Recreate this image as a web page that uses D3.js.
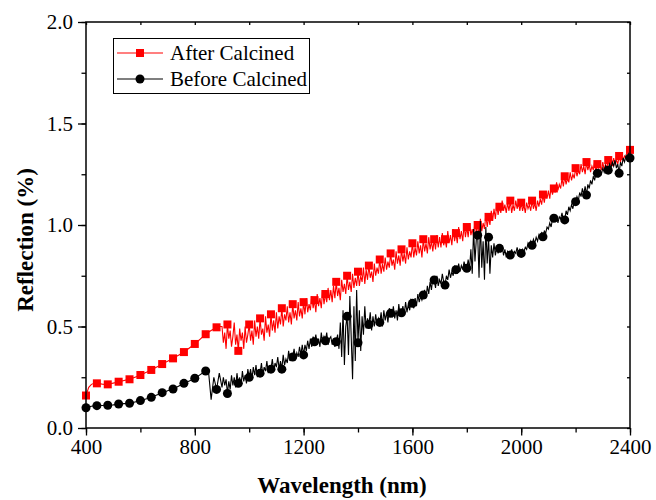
<!DOCTYPE html>
<html>
    <head>
        <title>Reflection</title>
        <meta charset="utf-8">
        <style>
            html, body {
                margin: 0px;
                padding: 0px;
                background-color: #ffffff;
            }

            #main svg {
                display: block;
                font-family: "Liberation Serif", "Times New Roman", serif;
            }

            .axis text {
                font-family: "Liberation Serif", "Times New Roman", serif;
                font-size: 21px;
                fill: #000;
            }

            .axis .domain {
                stroke: none;
            }

            .axis line {
                stroke: #000;
                stroke-width: 1.3px;
            }
        </style>
        <script src="https://cdn.jsdelivr.net/npm/d3@7"></script>
    </head>
    <body>
        <div id="main">
        </div>

        <script>
            // two sampling grids: 400..890 nm every 10 nm, 900..2400 nm every 5 nm
            var smoothStart = 400, smoothStep = 10;
            var noisyStart = 900, noisyStep = 5;

            var afterSmooth = [
                0.16, 0.20, 0.215, 0.22, 0.22, 0.218, 0.216, 0.215, 0.215, 0.218,
                0.221, 0.224, 0.228, 0.231, 0.234, 0.237, 0.24, 0.245, 0.25, 0.255,
                0.261, 0.267, 0.273, 0.279, 0.286, 0.293, 0.30, 0.307, 0.315, 0.322,
                0.329, 0.336, 0.343, 0.351, 0.358, 0.366, 0.374, 0.384, 0.394, 0.404,
                0.414, 0.426, 0.438, 0.45, 0.462, 0.472, 0.48, 0.488, 0.496, 0.50
            ];

            var afterNoisy = [
                0.50, 0.42, 0.47, 0.39, 0.51, 0.44, 0.48, 0.40, 0.45, 0.52, 0.41, 0.46, 0.38, 0.49, 0.43, 0.47, 0.39, 0.50, 0.42, 0.46,
                0.51, 0.43, 0.48, 0.41, 0.53, 0.45, 0.50, 0.44, 0.54, 0.46, 0.49, 0.43, 0.55, 0.47, 0.51, 0.45, 0.56, 0.48, 0.53, 0.47,
                0.57, 0.49, 0.55, 0.51, 0.59, 0.50, 0.56, 0.53, 0.60, 0.52, 0.57, 0.51, 0.61, 0.54, 0.58, 0.53, 0.62, 0.55, 0.59, 0.54,
                0.62, 0.56, 0.64, 0.57, 0.61, 0.58, 0.65, 0.59, 0.63, 0.57, 0.66, 0.60, 0.64, 0.59, 0.68, 0.61, 0.66, 0.62, 0.69, 0.63,
                0.68, 0.62, 0.70, 0.64, 0.72, 0.65, 0.69, 0.63, 0.73, 0.67, 0.71, 0.66, 0.75, 0.68, 0.72, 0.67, 0.76, 0.69, 0.74, 0.70,
                0.77, 0.70, 0.75, 0.72, 0.79, 0.71, 0.78, 0.73, 0.80, 0.74, 0.77, 0.72, 0.81, 0.75, 0.79, 0.76, 0.83, 0.76, 0.81, 0.77,
                0.84, 0.78, 0.82, 0.79, 0.86, 0.80, 0.83, 0.78, 0.87, 0.81, 0.85, 0.80, 0.88, 0.82, 0.86, 0.81, 0.89, 0.83, 0.87, 0.84,
                0.91, 0.84, 0.89, 0.85, 0.92, 0.86, 0.90, 0.84, 0.93, 0.87, 0.91, 0.86, 0.94, 0.88, 0.92, 0.87, 0.93, 0.88, 0.95, 0.89,
                0.94, 0.89, 0.96, 0.90, 0.93, 0.89, 0.97, 0.91, 0.95, 0.90, 0.98, 0.92, 0.96, 0.91, 0.99, 0.93, 0.97, 0.92, 1.00, 0.94,
                0.99, 0.94, 1.01, 0.95, 0.98, 0.94, 1.02, 0.96, 1.00, 0.95, 1.03, 0.97, 1.01, 0.98, 1.05, 0.99, 1.04, 1.00, 1.07, 1.02,
                1.08, 1.03, 1.10, 1.05, 1.09, 1.06, 1.12, 1.07, 1.10, 1.06, 1.11, 1.07, 1.12, 1.06, 1.10, 1.07, 1.12, 1.08, 1.11, 1.07,
                1.11, 1.07, 1.10, 1.06, 1.11, 1.08, 1.10, 1.07, 1.12, 1.08, 1.11, 1.07, 1.12, 1.09, 1.13, 1.10, 1.15, 1.11, 1.16, 1.13,
                1.17, 1.13, 1.19, 1.15, 1.18, 1.16, 1.21, 1.17, 1.20, 1.18, 1.23, 1.19, 1.24, 1.20, 1.23, 1.21, 1.26, 1.22, 1.25, 1.23,
                1.28, 1.24, 1.27, 1.25, 1.30, 1.26, 1.29, 1.25, 1.31, 1.27, 1.30, 1.26, 1.29, 1.27, 1.31, 1.26, 1.30, 1.28, 1.29, 1.27,
                1.31, 1.27, 1.30, 1.28, 1.32, 1.28, 1.31, 1.29, 1.33, 1.30, 1.32, 1.30, 1.34, 1.31, 1.35, 1.32, 1.34, 1.33, 1.36, 1.34,
                1.37
            ];

            var beforeSmooth = [
                0.10, 0.104, 0.107, 0.109, 0.11, 0.111, 0.111, 0.112, 0.112, 0.113,
                0.114, 0.116, 0.118, 0.119, 0.12, 0.121, 0.122, 0.125, 0.128, 0.131,
                0.135, 0.139, 0.143, 0.147, 0.151, 0.156, 0.162, 0.168, 0.174, 0.178,
                0.183, 0.188, 0.192, 0.199, 0.206, 0.213, 0.22, 0.226, 0.232, 0.239,
                0.245, 0.254, 0.263, 0.272, 0.281, 0.285, 0.14, 0.25, 0.19, 0.27
            ];

            var beforeNoisy = [
                0.20, 0.25, 0.21, 0.24, 0.17, 0.23, 0.19, 0.26, 0.21, 0.25, 0.20, 0.27, 0.22, 0.25, 0.21, 0.28, 0.23, 0.26, 0.22, 0.29,
                0.25, 0.29, 0.24, 0.30, 0.26, 0.31, 0.25, 0.29, 0.27, 0.32, 0.26, 0.30, 0.28, 0.33, 0.27, 0.31, 0.29, 0.34, 0.28, 0.32,
                0.30, 0.35, 0.29, 0.33, 0.29, 0.36, 0.31, 0.34, 0.32, 0.38, 0.33, 0.36, 0.35, 0.39, 0.34, 0.37, 0.35, 0.40, 0.36, 0.41,
                0.36, 0.41, 0.38, 0.43, 0.39, 0.44, 0.40, 0.45, 0.425, 0.46, 0.41, 0.44, 0.40, 0.47, 0.42, 0.45, 0.43, 0.47, 0.41, 0.44,
                0.45, 0.41, 0.44, 0.40, 0.425, 0.46, 0.39, 0.52, 0.35, 0.58, 0.31, 0.50, 0.55, 0.36, 0.65, 0.45, 0.24, 0.60, 0.33, 0.68,
                0.42, 0.58, 0.38, 0.55, 0.46, 0.60, 0.49, 0.54, 0.51, 0.57, 0.48, 0.55, 0.50, 0.56, 0.51, 0.54, 0.52, 0.57, 0.50, 0.58,
                0.53, 0.57, 0.52, 0.59, 0.565, 0.55, 0.60, 0.54, 0.58, 0.53, 0.61, 0.55, 0.568, 0.60, 0.56, 0.62, 0.57, 0.61, 0.58, 0.63,
                0.614, 0.59, 0.64, 0.60, 0.66, 0.62, 0.65, 0.63, 0.655, 0.68, 0.64, 0.70, 0.66, 0.72, 0.68, 0.74, 0.729, 0.69, 0.75, 0.70,
                0.73, 0.71, 0.76, 0.72, 0.704, 0.75, 0.73, 0.78, 0.74, 0.77, 0.75, 0.80, 0.78, 0.76, 0.81, 0.77, 0.80, 0.78, 0.82, 0.79,
                0.787, 0.83, 0.78, 0.88, 0.76, 0.98, 0.82, 0.93, 0.95, 0.74, 1.02, 0.79, 0.92, 0.73, 0.99, 0.81, 0.94, 0.76, 0.90, 0.84,
                0.91, 0.85, 0.89, 0.86, 0.885, 0.87, 0.90, 0.85, 0.88, 0.84, 0.87, 0.86, 0.852, 0.88, 0.85, 0.87, 0.86, 0.89, 0.86, 0.88,
                0.86, 0.88, 0.87, 0.89, 0.88, 0.91, 0.89, 0.92, 0.90, 0.93, 0.91, 0.94, 0.92, 0.95, 0.93, 0.96, 0.942, 0.97, 0.96, 0.99,
                0.98, 1.01, 0.99, 1.03, 1.033, 1.02, 1.05, 1.01, 1.04, 1.03, 1.06, 1.02, 1.025, 1.07, 1.05, 1.09, 1.07, 1.10, 1.08, 1.12,
                1.115, 1.14, 1.12, 1.16, 1.14, 1.18, 1.15, 1.19, 1.148, 1.20, 1.18, 1.22, 1.20, 1.24, 1.22, 1.26, 1.255, 1.24, 1.27, 1.25,
                1.28, 1.26, 1.29, 1.27, 1.27, 1.30, 1.28, 1.31, 1.29, 1.32, 1.28, 1.30, 1.255, 1.31, 1.29, 1.33, 1.31, 1.34, 1.32, 1.35,
                1.33
            ];

            var xTicks = [400, 800, 1200, 1600, 2000, 2400];
            var yTicks = [0.0, 0.5, 1.0, 1.5, 2.0];
            var seriesNames = ["After Calcined", "Before Calcined"];
            var seriesColors = ["#ff0000", "#000000"];

            var width = 656;
            var height = 500;
            var margin = {left: 86, right: 26, top: 22, bottom: 72};
            var markerSpacing = 40; // nm between symbols

            var xScale = d3.scaleLinear()
                .domain([400, 2400])
                .range([margin.left, width - margin.right]);

            var yScale = d3.scaleLinear()
                .domain([0, 2])
                .range([height - margin.bottom, margin.top]);

            function toPoints(smooth, noisy) {
                var a = smooth.map(function(v, i) {
                    return {wl: smoothStart + i * smoothStep, value: v};
                });
                var b = noisy.map(function(v, i) {
                    return {wl: noisyStart + i * noisyStep, value: v};
                });
                return a.concat(b);
            }

            function drawMarker(g, shape, color, x, y) {
                if(shape === "square") {
                    g.append("rect")
                        .attr("x", x - 4)
                        .attr("y", y - 4)
                        .attr("width", 8)
                        .attr("height", 8)
                        .attr("fill", color);
                } else {
                    g.append("circle")
                        .attr("cx", x)
                        .attr("cy", y)
                        .attr("r", 4.5)
                        .attr("fill", color);
                }
            }

            function drawSeries(svg, smooth, noisy, color, shape) {
                var data = toPoints(smooth, noisy);
                var line = d3.line()
                    .x(function(d) { return xScale(d.wl); })
                    .y(function(d) { return yScale(d.value); });

                var g = svg.append("g");
                g.append("path")
                    .datum(data)
                    .attr("fill", "none")
                    .attr("stroke", color)
                    .attr("stroke-width", 1.1)
                    .attr("d", line);

                data.filter(function(d) { return (d.wl - 400) % markerSpacing === 0; })
                    .forEach(function(d) {
                        drawMarker(g, shape, color, xScale(d.wl), yScale(d.value));
                    });
            }

            function drawAxes(svg) {
                var xMinor = d3.range(400, 2401, 200);
                var yMinor = d3.range(0, 2.01, 0.25);

                // bottom: minor then major, outward
                svg.append("g")
                    .attr("class", "axis")
                    .attr("transform", "translate(0," + yScale(0) + ")")
                    .call(d3.axisBottom(xScale).tickValues(xMinor).tickSize(4.5).tickFormat(""));
                svg.append("g")
                    .attr("class", "axis")
                    .attr("transform", "translate(0," + yScale(0) + ")")
                    .call(d3.axisBottom(xScale).tickValues(xTicks).tickSize(7.5).tickPadding(4)
                        .tickFormat(d3.format("d")));

                // left
                svg.append("g")
                    .attr("class", "axis")
                    .attr("transform", "translate(" + xScale(400) + ",0)")
                    .call(d3.axisLeft(yScale).tickValues(yMinor).tickSize(4.5).tickFormat(""));
                svg.append("g")
                    .attr("class", "axis")
                    .attr("transform", "translate(" + xScale(400) + ",0)")
                    .call(d3.axisLeft(yScale).tickValues(yTicks).tickSize(8).tickPadding(5)
                        .tickFormat(d3.format(".1f")));

                // top and right: small inward ticks
                svg.append("g")
                    .attr("class", "axis")
                    .attr("transform", "translate(0," + yScale(2) + ")")
                    .call(d3.axisBottom(xScale).tickValues(xMinor).tickSize(3).tickFormat(""));
                svg.append("g")
                    .attr("class", "axis")
                    .attr("transform", "translate(" + xScale(2400) + ",0)")
                    .call(d3.axisLeft(yScale).tickValues(yMinor).tickSize(3).tickFormat(""));

                // frame
                svg.append("rect")
                    .attr("x", xScale(400))
                    .attr("y", yScale(2))
                    .attr("width", xScale(2400) - xScale(400))
                    .attr("height", yScale(0) - yScale(2))
                    .attr("fill", "none")
                    .attr("stroke", "#000")
                    .attr("stroke-width", 1.5);

                svg.append("text")
                    .attr("x", 342)
                    .attr("y", 493)
                    .attr("text-anchor", "middle")
                    .attr("font-size", "23px")
                    .attr("font-weight", "bold")
                    .text("Wavelength (nm)");

                svg.append("text")
                    .attr("transform", "translate(33,240) rotate(-90)")
                    .attr("text-anchor", "middle")
                    .attr("font-size", "23px")
                    .attr("font-weight", "bold")
                    .text("Reflection (%)");
            }

            function drawLegend(svg) {
                var g = svg.append("g");
                g.append("rect")
                    .attr("x", 113.5)
                    .attr("y", 38.5)
                    .attr("width", 196)
                    .attr("height", 55)
                    .attr("fill", "#fff")
                    .attr("stroke", "#000")
                    .attr("stroke-width", 1);

                var shapes = ["square", "circle"];
                seriesNames.forEach(function(name, i) {
                    var cy = 53 + i * 26;
                    g.append("line")
                        .attr("x1", 117)
                        .attr("x2", 163)
                        .attr("y1", cy)
                        .attr("y2", cy)
                        .attr("stroke", seriesColors[i])
                        .attr("stroke-width", 1.2);
                    drawMarker(g, shapes[i], seriesColors[i], 140, cy);
                    g.append("text")
                        .attr("x", 170)
                        .attr("y", cy + 7)
                        .attr("font-size", "21px")
                        .text(name);
                });
            }

            function main() {
                var svg = d3.select("#main")
                            .append("svg")
                            .attr("width", width)
                            .attr("height", height);

                drawSeries(svg, afterSmooth, afterNoisy, seriesColors[0], "square");
                drawSeries(svg, beforeSmooth, beforeNoisy, seriesColors[1], "circle");
                drawAxes(svg);
                drawLegend(svg);
            }

            main();
        </script>
    </body>
</html>
